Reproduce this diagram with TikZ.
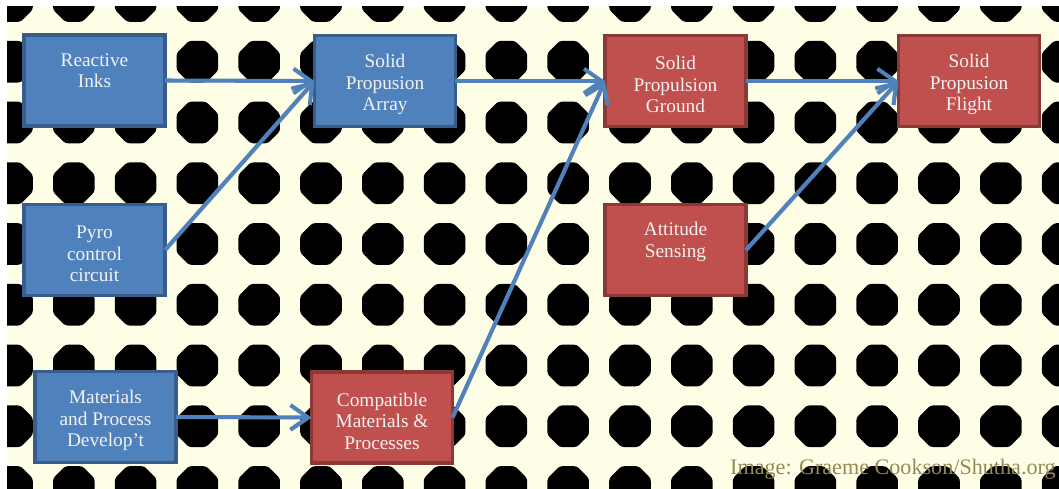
\documentclass[tikz,border=0pt]{standalone}
\usepackage{fontspec}
\setmainfont{Liberation Serif}
\usetikzlibrary{arrows.meta}

\definecolor{paper}{RGB}{254,254,230}
\definecolor{blueboxfill}{RGB}{79,129,189}
\definecolor{blueboxline}{RGB}{56,93,138}
\definecolor{redboxfill}{RGB}{192,80,77}
\definecolor{redboxline}{RGB}{140,56,54}
\definecolor{creditcol}{RGB}{148,138,84}
\newcommand{\boxgap}{\rule{0pt}{11.8pt}}

\begin{document}
\begin{tikzpicture}[x=0.02cm, y=0.02cm,
        box/.style={rectangle, line width=2.2pt, minimum width=2.82cm, minimum height=1.82cm,
                    inner sep=0pt, outer sep=0pt, align=center, text=white!95!black,
                    font=\fontsize{11}{12.2}\selectfont},
        bluebox/.style={box, fill=blueboxfill, draw=blueboxline},
        redbox/.style={box, fill=redboxfill, draw=redboxline},
        flow/.style={draw=blueboxfill, line width=2.3pt,
                     -{Straight Barb[length=10pt,width=14pt]},
                     preaction={draw=black!45, opacity=0.35,
                                transform canvas={shift={(0.8pt,-0.9pt)}}}},
        credit/.style={text=creditcol, inner sep=0pt, font=\fontsize{12.6}{14}\selectfont}]
        \useasboundingbox (0,0) rectangle (1059,-489);
        % dotted background
        \begin{scope}
        \clip (7,-7) rectangle (1059,-489);
        \fill [paper] (7,-7) rectangle (1059,-489);
        \foreach \i in {0,...,17}
        \foreach \j in {0,...,8}
        \fill [black, rounded corners=1.5pt] (12+61.8*\i,-1-60.75*\j) +(22.5:22.5) -- +(67.5:22.5)
              -- +(112.5:22.5) -- +(157.5:22.5) -- +(202.5:22.5) -- +(247.5:22.5)
              -- +(292.5:22.5) -- +(337.5:22.5) -- cycle;
        \end{scope}
        % boxes
        \node [bluebox] (inks) at (94.5,-80.5) {\boxgap Reactive\\Inks\\\strut};
        \node [bluebox] (array) at (385,-81) {\boxgap Solid\\Propusion\\Array};
        \node [redbox] (ground) at (675.5,-81) {\boxgap Solid\\Propulsion\\Ground};
        \node [redbox] (flight) at (969,-81) {\boxgap Solid\\Propusion\\Flight};
        \node [bluebox] (pyro) at (94.5,-250) {\boxgap Pyro\\control\\circuit};
        \node [redbox] (attitude) at (675.5,-250) {\boxgap Attitude\\Sensing\\\strut};
        \node [bluebox] (develop) at (105.5,-417) {\boxgap Materials\\and Process\\Develop’t};
        \node [redbox] (compat) at (382,-417.5) {\boxgap Compatible\\Materials \&\\Processes};
        % arrows
        \draw [flow] (inks.east) -- (array.west);
        \draw [flow] (pyro.east) -- (array.west);
        \draw [flow] (array.east) -- (ground.west);
        \draw [flow] (develop.east) -- (compat.west);
        \draw [flow] (compat.east) -- (ground.west);
        \draw [flow] (ground.east) -- (flight.west);
        \draw [flow] (attitude.east) -- (flight.west);
        % credit line
        \node [credit, anchor=base east] (source) at (1056,-475) {Image: Graeme Cookson/Shutha.org};
\end{tikzpicture}
\end{document}
